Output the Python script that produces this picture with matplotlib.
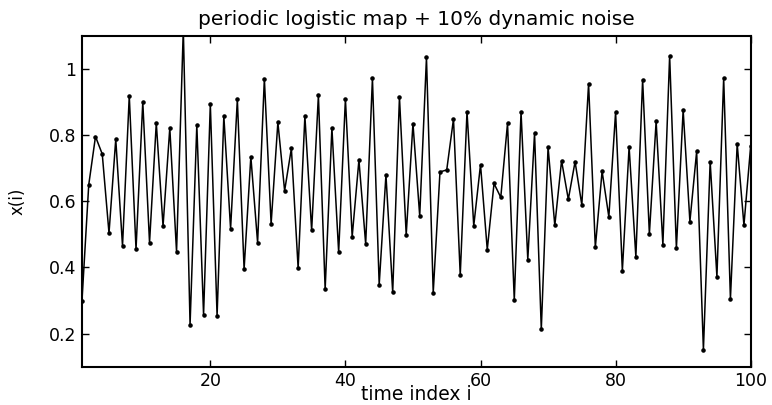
import numpy as np
import matplotlib
matplotlib.use("Agg")
import matplotlib.pyplot as plt
from matplotlib.ticker import FuncFormatter

# time series x(i), i = 1..100
idx = np.arange(1, 101)
x_vals = [
    0.300, 0.650, 0.796, 0.743, 0.504, 0.788, 0.465, 0.919, 0.455, 0.901,
    0.475, 0.837, 0.525, 0.822, 0.447, 1.120, 0.227, 0.831, 0.257, 0.894,
    0.254, 0.858, 0.517, 0.908, 0.395, 0.735, 0.475, 0.971, 0.532, 0.839,
    0.632, 0.760, 0.398, 0.858, 0.512, 0.921, 0.334, 0.822, 0.446, 0.910,
    0.493, 0.725, 0.471, 0.972, 0.348, 0.680, 0.325, 0.915, 0.499, 0.835,
    0.556, 1.035, 0.324, 0.689, 0.695, 0.849, 0.377, 0.871, 0.526, 0.711,
    0.454, 0.654, 0.612, 0.836, 0.301, 0.870, 0.424, 0.806, 0.213, 0.764,
    0.527, 0.723, 0.606, 0.720, 0.589, 0.956, 0.461, 0.691, 0.553, 0.870,
    0.390, 0.765, 0.432, 0.968, 0.501, 0.842, 0.469, 1.040, 0.458, 0.876,
    0.539, 0.751, 0.151, 0.720, 0.372, 0.973, 0.305, 0.774, 0.528, 0.768,
]
xticks = [20, 40, 60, 80, 100]
yticks = [0.2, 0.4, 0.6, 0.8, 1.0]

plt.rcParams['font.family'] = ['DejaVu Sans']

fig = plt.figure(figsize=(7.72, 4.05), dpi=100)
ax = fig.add_axes([0.1062, 0.0946, 0.8662, 0.8165])

ax.plot(idx, x_vals, color='black', linewidth=1.1, marker='.', markersize=4.5)

ax.set_xlim(1, 100)
ax.set_ylim(0.1, 1.1)
ax.set_xticks(xticks)
ax.set_yticks(yticks)
ax.yaxis.set_major_formatter(FuncFormatter(lambda v, p: f"{v:g}"))
ax.tick_params(direction='in', length=5, width=1, top=True, right=True,
               labelsize=12.5, pad=4)
for s in ax.spines.values():
    s.set_linewidth(1.5)

ax.set_title("periodic logistic map + 10% dynamic noise", fontsize=14.5, pad=8)
ax.set_xlabel("time index i", fontsize=13.5, va='baseline')
ax.set_ylabel("x(i)", fontsize=12)
ax.xaxis.set_label_coords(0.5, -0.1)
ax.yaxis.set_label_coords(-0.083, 0.5)

fig.savefig("out.png", dpi=100)
